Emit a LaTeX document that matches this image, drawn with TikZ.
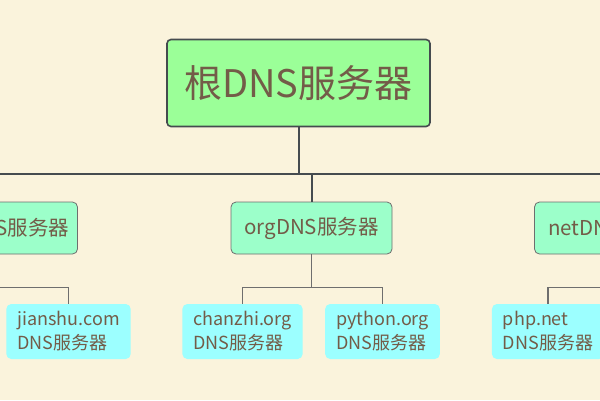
\documentclass[tikz,border=0pt]{standalone}
\usepackage{fontspec}
\setmainfont{Noto Sans CJK SC}
\definecolor{bgcol}{HTML}{FAF3DC}
\definecolor{rootfill}{HTML}{9BFF98}
\definecolor{midfill}{HTML}{9CFFCA}
\definecolor{leaffill}{HTML}{9CFFFF}
\definecolor{txtcol}{HTML}{735C48}
\definecolor{linecol}{HTML}{454B4F}
\definecolor{thincol}{HTML}{6E6E6E}
\tikzset{
  rootbox/.style={draw=linecol, line width=1.6pt, fill=rootfill, rounded corners=4pt,
    minimum width=263pt, minimum height=87pt, text=txtcol, font=\fontsize{38}{44}\selectfont},
  midbox/.style={draw=thincol, line width=0.8pt, fill=midfill, rounded corners=5pt,
    minimum width=161pt, minimum height=52pt, text=txtcol, font=\fontsize{20.5}{24}\selectfont},
  leafbox/.style={fill=leaffill, rounded corners=5pt, minimum height=55pt, inner xsep=11pt,
    align=left, text=txtcol, font=\fontsize{18}{24}\selectfont},
  bigline/.style={draw=linecol, line width=2pt},
  smallline/.style={draw=thincol, line width=1.2pt}
}
\begin{document}
\begin{tikzpicture}[x=1pt, y=-1pt]
    \useasboundingbox (0,0) rectangle (600,400);
    \fill[bgcol] (0,0) rectangle (600,400);
    \clip (0,0) rectangle (600,396.5);

    % 根
    \node[rootbox] (root) at (298.5,83) {根DNS服务器};

    % 顶级域
    \node[midbox] (com) at (-3,228) {comDNS服务器};
    \node[midbox] (org) at (311.5,228) {orgDNS服务器};
    \node[midbox] (net) at (615,228) {netDNS服务器};

    % 二级域
    \node[leafbox] (jianshu) at (68.5,331.5) {jianshu.com\\DNS服务器};
    \node[leafbox] (chanzhi) at (242.5,331.5) {chanzhi.org\\DNS服务器};
    \node[leafbox] (python) at (382.5,331.5) {python.org\\DNS服务器};
    \node[leafbox] (php) at (548,331.5) {php.net\\DNS服务器};

    % 连线
    \coordinate (bus) at (0,173.5);
    \draw[bigline] (root.south) -- (root.south |- bus);
    \draw[bigline] (com.north) |- (bus) -| (net.north);
    \draw[bigline] (org.north) -- (org.north |- bus);
    \draw[smallline] (com.south) -- ++(0,33) -| (jianshu.north);
    \draw[smallline] (org.south) -- ++(0,33) -| (chanzhi.north);
    \draw[smallline] (org.south) ++(0,33) -| (python.north);
    \draw[smallline] (net.south) -- ++(0,33) -| (php.north);

    \fill[black!85] (0,396.5) rectangle (600,400);
\end{tikzpicture}
\end{document}
